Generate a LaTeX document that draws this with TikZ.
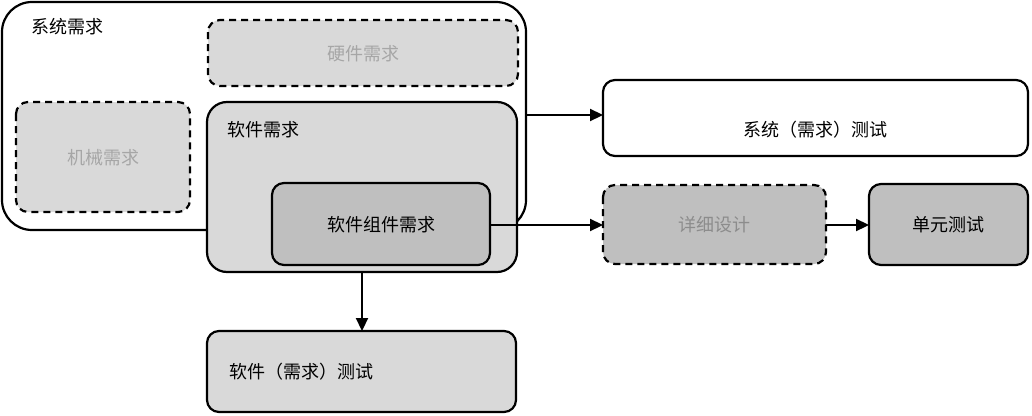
\documentclass[tikz,border=0pt]{standalone}
\usepackage{fontspec}
\setmainfont{Noto Sans CJK SC}
\usetikzlibrary{arrows.meta}
\definecolor{lightg}{HTML}{D9D9D9}
\definecolor{midg}{HTML}{BFBFBF}
\definecolor{txtlight}{HTML}{A6A6A6}
\definecolor{txtmid}{HTML}{8C8C8C}
\tikzset{
  box/.style={draw=black, line width=2.2pt, rounded corners=12pt, inner sep=0pt},
  dashbox/.style={box, dash pattern=on 7pt off 5pt},
  lbl/.style={font=\fontsize{18}{20}\selectfont, inner sep=0pt},
  arr/.style={line width=2.2pt, -{Triangle[length=13pt,width=12pt]}}
}
\begin{document}
\begin{tikzpicture}[x=1pt,y=-1pt]
\useasboundingbox (0,0) rectangle (1032,415);
% system requirements
\draw[box, fill=white, rounded corners=30pt] (2,2) rectangle (526,230);
\coordinate (sysR) at (526,115);
\node[lbl, anchor=west] (syslbl) at (31,27) {系统需求};
% hardware
\draw[dashbox, fill=lightg] (208,20) rectangle (518,86);
\node[lbl, text=txtlight] (hw) at (363,54) {硬件需求};
% mechanical
\draw[dashbox, fill=lightg] (16,102) rectangle (190,212);
\node[lbl, text=txtlight] (mech) at (103,158) {机械需求};
% software requirements
\draw[box, fill=lightg, rounded corners=20pt] (207,102) rectangle (517,272);
\coordinate (swB) at (362,272);
\node[lbl, anchor=west] (swlbl) at (227,130) {软件需求};
% software component
\draw[box, fill=midg] (272,183) rectangle (490,265);
\coordinate (compR) at (490,225);
\node[lbl] (comp) at (381,225) {软件组件需求};
% system test
\draw[box, fill=white] (603,80) rectangle (1028,156);
\coordinate (stL) at (603,115);
\node[lbl] (st) at (815,130) {系统（需求）测试};
% detailed design
\draw[dashbox, fill=midg] (603,185) rectangle (826,264);
\coordinate (ddL) at (603,225);
\coordinate (ddR) at (826,225);
\node[lbl, text=txtmid] (dd) at (714,225) {详细设计};
% unit test
\draw[box, fill=midg] (869,184) rectangle (1028,265);
\coordinate (utL) at (869,225);
\node[lbl] (ut) at (948,225) {单元测试};
% software test
\draw[box, fill=lightg] (207,331) rectangle (516,412);
\coordinate (swtT) at (362,331);
\node[lbl, anchor=west] (swt) at (229,372) {软件（需求）测试};
% arrows
\draw[arr] (sysR) -- (stL);
\draw[arr] (compR) -- (ddL);
\draw[arr] (ddR) -- (utL);
\draw[arr] (swB) -- (swtT);
\end{tikzpicture}
\end{document}
